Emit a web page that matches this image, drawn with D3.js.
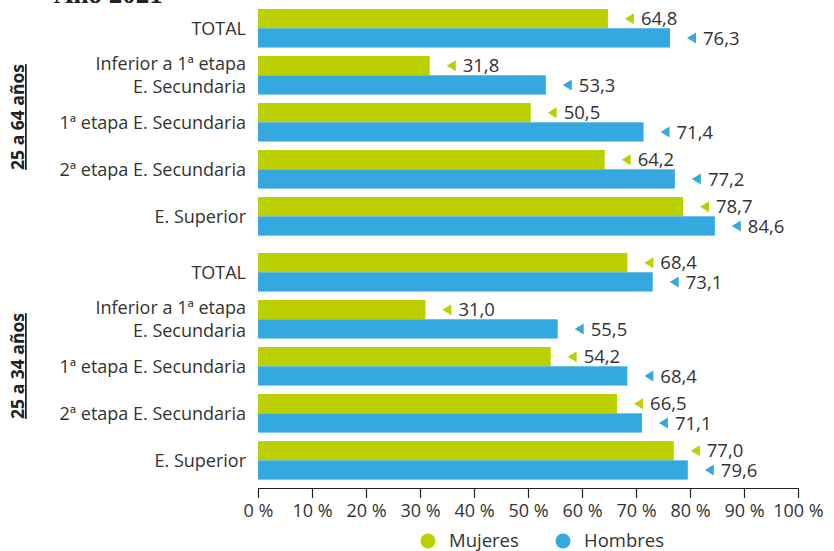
<!DOCTYPE html>
<html>
<head>
<meta charset="utf-8">
<script src="https://cdn.jsdelivr.net/npm/d3@7"></script>
<style>
  html, body { margin: 0; padding: 0; background: #fff; }
  svg { display: block; }
</style>
</head>
<body>
<svg id="chart" width="834" height="551"></svg>
<script>
// Tasa de empleo por nivel de formación y sexo
const sections = ["25 a 64 años", "25 a 34 años"];
const categories = [
  ["TOTAL"],
  ["Inferior a 1ª etapa", "E. Secundaria"],
  ["1ª etapa E. Secundaria"],
  ["2ª etapa E. Secundaria"],
  ["E. Superior"]
];
const series = ["Mujeres", "Hombres"];
const mujeres25a64 = [64.8, 31.8, 50.5, 64.2, 78.7];
const hombres25a64 = [76.3, 53.3, 71.4, 77.2, 84.6];
const mujeres25a34 = [68.4, 31.0, 54.2, 66.5, 77.0];
const hombres25a34 = [73.1, 55.5, 68.4, 71.1, 79.6];
const tickValues = [0, 10, 20, 30, 40, 50, 60, 70, 80, 90, 100];
const tickLabels = ["0 %", "10 %", "20 %", "30 %", "40 %", "50 %", "60 %", "70 %", "80 %", "90 %", "100 %"];

const colors = { Mujeres: "#bccf00", Hombres: "#36a8e0" };
const FONT = "'Open Sans', sans-serif";
const TEXT = "#333333";

const sectionValues = [
  [mujeres25a64, hombres25a64],
  [mujeres25a34, hombres25a34]
];

const svg = d3.select("#chart");

// Title (partly above the visible area)
svg.append("text")
  .attr("x", 54).attr("y", 3)
  .attr("font-family", "'Liberation Serif', serif")
  .attr("font-weight", "bold")
  .attr("font-size", 27)
  .attr("fill", "#222")
  .text("Año 2021");

const x = d3.scaleLinear().domain([0, 100]).range([258, 798]);

const sectionRanges = [[9, 235.6], [253, 479.6]];
const sectionLabelY = [117, 366];
const catIdx = categories.map((d, i) => i);

const inner = d3.scaleBand().domain(series).paddingInner(0);

sections.forEach((sec, s) => {
  const y = d3.scaleBand().domain(catIdx).range(sectionRanges[s]).paddingInner(0.18).paddingOuter(0);
  inner.range([0, y.bandwidth()]);
  const g = svg.append("g");

  catIdx.forEach(ci => {
    const y0 = y(ci);
    // category label
    const lines = categories[ci];
    const cy = y0 + y.bandwidth() / 2;
    const lh = 23;
    lines.forEach((ln, li) => {
      g.append("text")
        .attr("x", 246)
        .attr("y", cy + (li - (lines.length - 1) / 2) * lh)
        .attr("dy", "0.35em")
        .attr("text-anchor", "end")
        .attr("font-family", FONT)
        .attr("font-size", 18)
        .attr("fill", TEXT)
        .text(ln);
    });

    series.forEach((ser, k) => {
      const v = sectionValues[s][k][ci];
      const by = y0 + inner(ser);
      const bh = inner.bandwidth();
      g.append("rect")
        .attr("x", x(0))
        .attr("y", by)
        .attr("width", x(v) - x(0))
        .attr("height", bh)
        .attr("fill", colors[ser]);
      const ex = x(v);
      const my = by + bh / 2;
      g.append("path")
        .attr("d", `M${ex + 17},${my} L${ex + 26},${my - 5.5} L${ex + 26},${my + 5.5} Z`)
        .attr("fill", colors[ser]);
      g.append("text")
        .attr("x", ex + 33)
        .attr("y", my)
        .attr("dy", "0.36em")
        .attr("font-family", FONT)
        .attr("font-size", 18.5)
        .attr("fill", TEXT)
        .text(d3.format(".1f")(v).replace(".", ","));
    });
  });

  // rotated section label with underline
  svg.append("text")
    .attr("transform", `translate(24,${sectionLabelY[s]}) rotate(-90)`)
    .attr("text-anchor", "middle")
    .attr("font-family", FONT)
    .attr("font-weight", "bold")
    .attr("font-size", 17.5)
    .attr("fill", "#222")
    .attr("text-decoration", "underline")
    .text(sec);
});

// x axis
const axis = d3.axisBottom(x)
  .tickValues(tickValues)
  .tickFormat((d, i) => tickLabels[i])
  .tickSize(10)
  .tickPadding(6)
  .tickSizeOuter(0);

const ax = svg.append("g")
  .attr("transform", "translate(0,488)")
  .call(axis);
ax.select(".domain").attr("stroke", "#222").attr("stroke-width", 1.2);
ax.selectAll(".tick line").attr("stroke", "#222").attr("stroke-width", 1.2);
ax.selectAll(".tick text")
  .attr("font-family", FONT)
  .attr("font-size", 18)
  .attr("fill", TEXT);

// legend
const legend = svg.append("g");
const legendX = [428, 563];
series.forEach((ser, i) => {
  legend.append("circle")
    .attr("cx", legendX[i]).attr("cy", 541).attr("r", 7.5)
    .attr("fill", colors[ser]);
  legend.append("text")
    .attr("x", legendX[i] + 21).attr("y", 546.5)
    .attr("font-family", FONT)
    .attr("font-size", 18.5)
    .attr("fill", TEXT)
    .text(ser);
});
</script>
</body>
</html>
